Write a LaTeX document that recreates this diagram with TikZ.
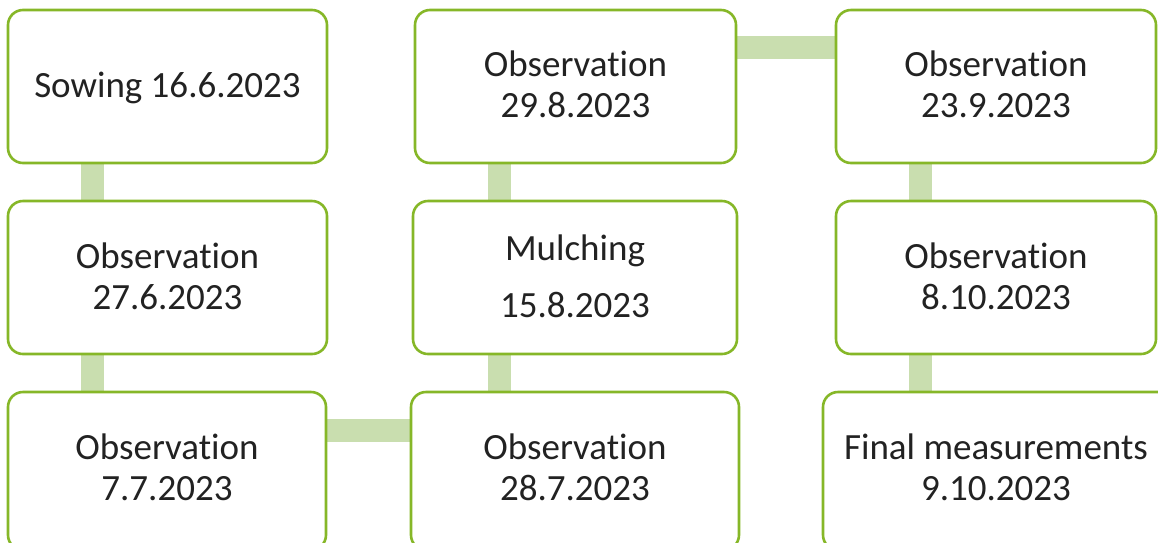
\documentclass[tikz,border=0pt]{standalone}
\usepackage{fontspec}
\setmainfont{Carlito}[Ligatures=NoCommon]
\usetikzlibrary{backgrounds}
\definecolor{boxgreen}{RGB}{134,183,40}
\definecolor{linkgreen}{RGB}{201,222,175}
\definecolor{txt}{RGB}{34,34,34}
\tikzset{
  stagebox/.style={draw=boxgreen, line width=2.6pt, fill=white, rounded corners=15pt, inner sep=0pt},
  stagetext/.style={anchor=base, inner sep=0pt, text=txt, font=\fontsize{37}{41}\selectfont},
  link/.style={draw=linkgreen, line width=23pt}
}
\newcommand{\twoline}[2]{\begin{tabular}[t]{@{}c@{}}#1\\#2\end{tabular}}
\begin{document}
\begin{tikzpicture}[x=1pt,y=-1pt]
\path[use as bounding box, clip] (0,0) rectangle (1158,542);
% boxes
\node[stagebox, minimum width=319pt, minimum height=153pt] (b1) at (167.5,86.5) {};
\node[stagebox, minimum width=319pt, minimum height=153pt] (b2) at (167.5,277.5) {};
\node[stagebox, minimum width=318pt, minimum height=158pt] (b3) at (167,471) {};
\node[stagebox, minimum width=328pt, minimum height=158pt] (b4) at (575,471) {};
\node[stagebox, minimum width=324pt, minimum height=153pt] (b5) at (575,277.5) {};
\node[stagebox, minimum width=321pt, minimum height=153pt] (b6) at (575.5,86.5) {};
\node[stagebox, minimum width=320pt, minimum height=153pt] (b7) at (996,86.5) {};
\node[stagebox, minimum width=320pt, minimum height=153pt] (b8) at (996,277.5) {};
\node[stagebox, minimum width=350pt, minimum height=158pt] (b9) at (998,471) {};
% texts
\node[stagetext] (t1) at (167.5,97) {Sowing 16.6.2023};
\node[stagetext] (t2) at (167.5,268) {\twoline{Observation}{27.6.2023}};
\node[stagetext] (t3) at (167,459) {\twoline{Observation}{7.7.2023}};
\node[stagetext] (t4) at (575,459) {\twoline{Observation}{28.7.2023}};
\node[stagetext] (t5) at (575,260) {\begin{tabular}[t]{@{}c@{}}Mulching\\[16pt]15.8.2023\end{tabular}};
\node[stagetext] (t6) at (575.5,76) {\twoline{Observation}{29.8.2023}};
\node[stagetext] (t7) at (996,76) {\twoline{Observation}{23.9.2023}};
\node[stagetext] (t8) at (996,268) {\twoline{Observation}{8.10.2023}};
\node[stagetext] (t9) at (996,459) {\twoline{Final measurements}{9.10.2023}};
% connectors
\begin{scope}[on background layer]
\draw[link] ([xshift=-75pt]b1.south) -- ([xshift=-75pt]b2.north);
\draw[link] ([xshift=-75pt]b2.south) -- ([xshift=-75pt]b2.south |- b3.north);
\draw[link] ([yshift=41pt]b3.east) -- ([yshift=41pt]b3.east -| b4.west);
\draw[link] ([xshift=-75.5pt]b4.north) -- ([xshift=-75.5pt]b4.north |- b5.south);
\draw[link] ([xshift=-75.5pt]b5.north) -- ([xshift=-75.5pt]b5.north |- b6.south);
\draw[link] ([yshift=39.5pt]b6.east) -- ([yshift=39.5pt]b6.east -| b7.west);
\draw[link] ([xshift=-75.5pt]b7.south) -- ([xshift=-75.5pt]b8.north);
\draw[link] ([xshift=-75.5pt]b8.south) -- ([xshift=-75.5pt]b8.south |- b9.north);
\end{scope}
\end{tikzpicture}
\end{document}
